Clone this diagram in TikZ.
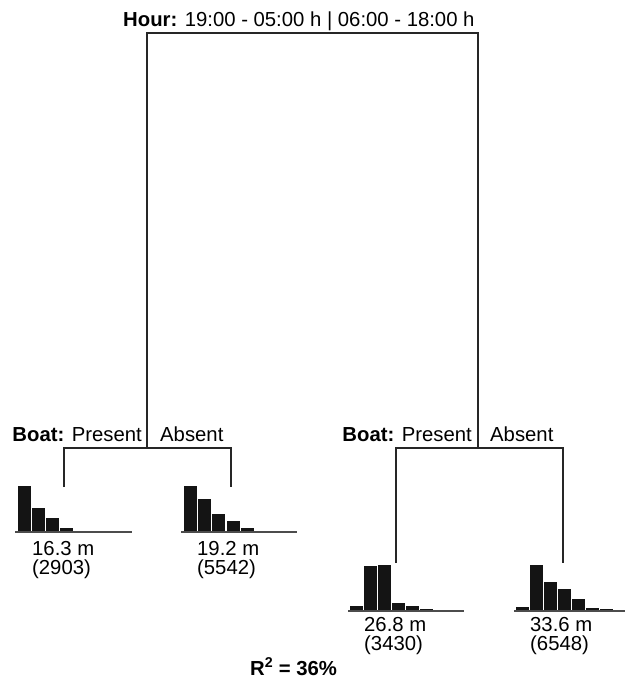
\documentclass[tikz,border=0pt]{standalone}
\usepackage{fontspec}
\setmainfont{Liberation Sans}
\begin{document}
\begin{tikzpicture}[x=1pt,y=-1pt,
  branch/.style={line width=1.2pt,draw=black!85},
  axisline/.style={line width=1.8pt,draw=black!70},
  bar/.style={fill=black!92},
  lbl/.style={inner sep=0pt,font=\fontsize{20.3}{23}\selectfont},
  lblw/.style={lbl,anchor=base west},
  lble/.style={lbl,anchor=base east}]
\useasboundingbox (0,0) rectangle (625,688);

% split labels
\node[lblw] (hour) at (123,27) {\textbf{Hour:} 19:00 - 05:00 h | 06:00 - 18:00 h};
\node[lble] (boatL) at (142,441) {\textbf{Boat:} Present};
\node[lblw] (absL) at (160,441) {Absent};
\node[lble] (boatR) at (472,441) {\textbf{Boat:} Present};
\node[lblw] (absR) at (490,441) {Absent};

% tree junctions
\coordinate (rootL) at (147,33);
\coordinate (rootR) at (478,33);
\coordinate (L) at (147,448);
\coordinate (R) at (478,448);
\coordinate (LL) at (64,448);
\coordinate (LR) at (231,448);
\coordinate (RL) at (396,448);
\coordinate (RR) at (563,448);
\coordinate (LLend) at (64,487);
\coordinate (LRend) at (231,487);
\coordinate (RLend) at (396,563);
\coordinate (RRend) at (563,563);

\draw[branch] (L) -- (rootL) -- (rootR) -- (R);
\draw[branch] (LLend) -- (LL) -- (LR) -- (LRend);
\draw[branch] (RLend) -- (RL) -- (RR) -- (RRend);

% leaf histograms
\foreach \t [count=\i from 0] in {486,508,518,528,531}
  \fill[bar] (18+14*\i,532) rectangle (31+14*\i,\t);
\draw[axisline] (15,532) -- (132,532);

\foreach \t [count=\i from 0] in {486,499,514,521,528,531}
  \fill[bar] (184+14.2*\i,532) rectangle (197+14.2*\i,\t);
\draw[axisline] (181,532) -- (297,532);

\foreach \t [count=\i from 0] in {606,566,565,603,606,609}
  \fill[bar] (350+14*\i,611) rectangle (363+14*\i,\t);
\draw[axisline] (348,611) -- (464,611);

\foreach \t [count=\i from 0] in {607,565,582,589,599,608,609}
  \fill[bar] (516+14*\i,611) rectangle (529+14*\i,\t);
\draw[axisline] (514,611) -- (625,611);

% leaf means and counts
\node[lblw] (m1) at (32,555) {16.3 m};
\node[lblw] (n1) at (32,574.5) {(2903)};
\node[lblw] (m2) at (197,555) {19.2 m};
\node[lblw] (n2) at (197,574.5) {(5542)};
\node[lblw] (m3) at (364,631) {26.8 m};
\node[lblw] (n3) at (364,650.5) {(3430)};
\node[lblw] (m4) at (530,631) {33.6 m};
\node[lblw] (n4) at (530,650.5) {(6548)};

\node[lblw] (r2) at (250,675) {\textbf{R\textsuperscript{2} = 36\%}};
\end{tikzpicture}
\end{document}
